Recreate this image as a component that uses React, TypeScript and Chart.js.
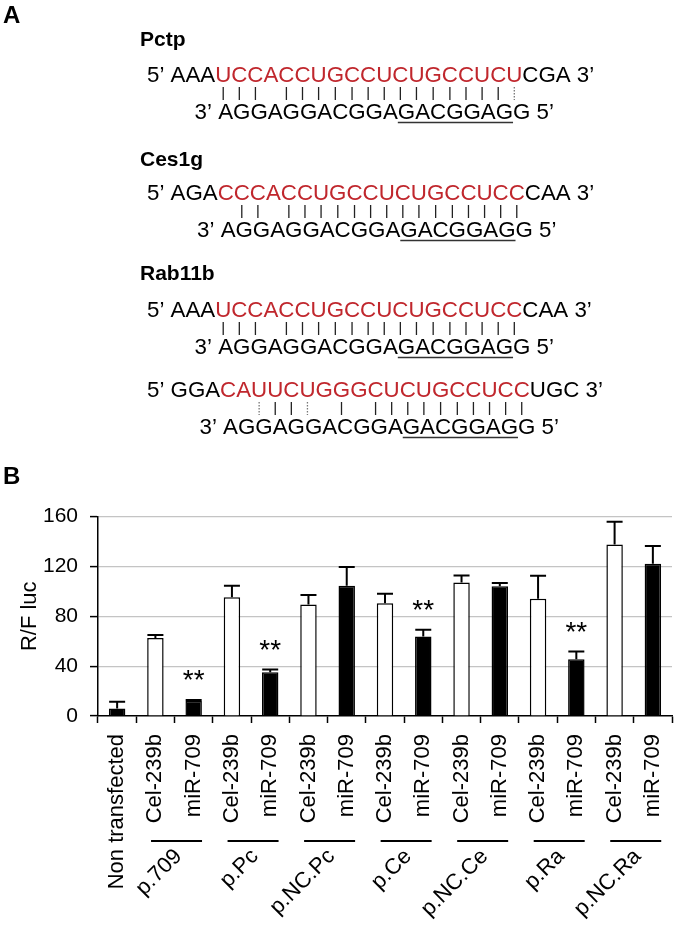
import React, { useEffect, useRef } from 'react';
import { Chart, registerables } from 'chart.js';

Chart.register(...registerables);

// ---------- Panel B data ----------
const categories = [
  'Non transfected',
  'Cel-239b', 'miR-709',
  'Cel-239b', 'miR-709',
  'Cel-239b', 'miR-709',
  'Cel-239b', 'miR-709',
  'Cel-239b', 'miR-709',
  'Cel-239b', 'miR-709',
  'Cel-239b', 'miR-709',
];
const values = [6, 62.5, 12.3, 95.3, 35, 89.4, 104.5, 90.5, 63.7, 107, 104, 94, 45.5, 137.6, 122.2];
const errors = [5.5, 2.5, 0.6, 9.2, 2.2, 7.6, 15, 7.5, 5.4, 5.7, 2.6, 18.4, 6.2, 18.2, 14.2];
const significant = [false, false, true, false, true, false, false, false, true, false, false, false, true, false, false];
const groupLabels = ['p.709', 'p.Pc', 'p.NC.Pc', 'p.Ce', 'p.NC.Ce', 'p.Ra', 'p.NC.Ra'];
const groupFirstIndex = [1, 3, 5, 7, 9, 11, 13];
const yMin = 0;
const yMax = 160;
const yStep = 40;
const yTitle = 'R/F luc';

// ---------- Panel A data ----------
const targetNames = ['Pctp', 'Ces1g', 'Rab11b', ''];
const flank5 = ['AAA', 'AGA', 'AAA', 'GGA'];
const sites = ['UCCACCUGCCUCUGCCUCU', 'CCCACCUGCCUCUGCCUCC', 'UCCACCUGCCUCUGCCUCC', 'CAUUCUGGGCUCUGCCUCC'];
const flank3 = ['CGA', 'CAA', 'CAA', 'UGC'];
const pairings = ['||| ||||||||||||||:', ' || |||||||||||||||', '||| |||||||||||||||', '  :||: | ||||||||||'];
const mirna = 'AGGAGGACGGAGACGGAGG';
const seedFrom = 11;
const seedTo = 18;

const FONT = '"Liberation Sans", Arial, Helvetica, sans-serif';
const RED = '#c0272d';
const GRID = '#c4c4c4';

export default function App() {
  const ref = useRef<HTMLCanvasElement>(null);

  useEffect(() => {
    const canvas = ref.current;
    if (!canvas) return;

    const overlay = {
      id: 'overlay',
      beforeDraw(chart: any) {
        const ctx = chart.ctx;
        ctx.save();
        ctx.fillStyle = '#fff';
        ctx.fillRect(0, 0, chart.width, chart.height);
        ctx.restore();
      },
      afterDatasetsDraw(chart: any) {
        const ctx = chart.ctx;
        const meta = chart.getDatasetMeta(0);
        const ys = chart.scales.y;
        ctx.save();
        ctx.strokeStyle = '#000';
        ctx.lineWidth = 2;
        values.forEach((v, i) => {
          const bar = meta.data[i];
          const x = bar.x;
          const yb = ys.getPixelForValue(v);
          const yt = ys.getPixelForValue(v + errors[i]);
          ctx.beginPath();
          ctx.moveTo(x, yb);
          ctx.lineTo(x, yt);
          ctx.moveTo(x - 8, yt);
          ctx.lineTo(x + 8, yt);
          ctx.stroke();
          if (significant[i]) {
            const size = 28;
            ctx.fillStyle = '#000';
            ctx.font = `${size}px ${FONT}`;
            ctx.textAlign = 'center';
            ctx.textBaseline = 'alphabetic';
            const cy = yt - 27;
            ctx.fillText('**', x, cy + 0.575 * size);
          }
        });
        ctx.restore();
      },
      afterDraw(chart: any) {
        const ctx = chart.ctx;
        const xs = chart.scales.x;
        ctx.save();
        // panel letters
        ctx.fillStyle = '#000';
        ctx.font = `bold 24px ${FONT}`;
        ctx.textAlign = 'left';
        ctx.textBaseline = 'alphabetic';
        ctx.fillText('A', 3, 23);
        ctx.fillText('B', 3, 484);

        // group lines & labels
        groupLabels.forEach((g, k) => {
          const i = groupFirstIndex[k];
          const c = (xs.getPixelForValue(i) + xs.getPixelForValue(i + 1)) / 2;
          ctx.strokeStyle = '#000';
          ctx.lineWidth = 2;
          ctx.beginPath();
          ctx.moveTo(c - 23.5, 841);
          ctx.lineTo(c + 27.5, 841);
          ctx.stroke();
          ctx.save();
          ctx.translate(c + 4, 853);
          ctx.rotate(-Math.PI / 4);
          ctx.font = `22px ${FONT}`;
          ctx.textAlign = 'right';
          ctx.textBaseline = 'middle';
          ctx.fillStyle = '#000';
          ctx.fillText(g, 0, 0);
          ctx.restore();
        });

        // panel A sequences
        const titleBase = [46, 166, 280, 0];
        const base5 = [82, 200, 317, 397];
        const base3 = [119, 237, 354, 434];
        const seqFont = `22.3px ${FONT}`;
        sites.forEach((site, r) => {
          if (targetNames[r]) {
            ctx.font = `bold 21px ${FONT}`;
            ctx.fillStyle = '#000';
            ctx.textAlign = 'left';
            ctx.fillText(targetNames[r], 140, titleBase[r]);
          }
          ctx.font = seqFont;
          ctx.textAlign = 'left';
          ctx.textBaseline = 'alphabetic';
          const y5 = base5[r];
          const y3 = base3[r];
          let x = 147;
          const pre = '5\u2019 ' + flank5[r];
          ctx.fillStyle = '#000';
          ctx.fillText(pre, x, y5);
          x += ctx.measureText(pre).width;
          const redStart = x;
          ctx.fillStyle = RED;
          ctx.fillText(site, x, y5);
          const centers: number[] = [];
          for (let i = 0; i < site.length; i++) {
            const a = ctx.measureText(site.slice(0, i)).width;
            const b = ctx.measureText(site.slice(0, i + 1)).width;
            centers.push(redStart + (a + b) / 2);
          }
          x += ctx.measureText(site).width;
          ctx.fillStyle = '#000';
          ctx.fillText(flank3[r] + ' 3\u2019', x, y5);

          // 3' miRNA line
          const p3 = '3\u2019 ';
          const x3 = redStart + 3 - ctx.measureText(p3).width;
          ctx.fillText(p3 + mirna + ' 5\u2019', x3, y3);
          const u0 = x3 + ctx.measureText(p3 + mirna.slice(0, seedFrom)).width;
          const u1 = x3 + ctx.measureText(p3 + mirna.slice(0, seedTo)).width;
          ctx.strokeStyle = '#333';
          ctx.lineWidth = 1.5;
          ctx.beginPath();
          ctx.moveTo(u0, y3 + 3.5);
          ctx.lineTo(u1, y3 + 3.5);
          ctx.stroke();

          // pairing marks
          const pr = pairings[r];
          for (let i = 0; i < pr.length; i++) {
            const ch = pr[i];
            if (ch === ' ') continue;
            ctx.beginPath();
            if (ch === ':') {
              ctx.strokeStyle = '#777';
              ctx.lineWidth = 1.3;
              ctx.setLineDash([1.5, 1.5]);
            } else {
              ctx.strokeStyle = '#222';
              ctx.lineWidth = 1.3;
              ctx.setLineDash([]);
            }
            ctx.moveTo(centers[i], y5 + 5);
            ctx.lineTo(centers[i], y5 + 18);
            ctx.stroke();
          }
          ctx.setLineDash([]);
        });
        ctx.restore();
      },
    };

    const chart = new Chart(canvas, {
      type: 'bar',
      data: {
        labels: categories,
        datasets: [
          {
            data: values,
            backgroundColor: categories.map((c) => (c === 'Cel-239b' ? '#ffffff' : '#000000')),
            borderColor: '#000',
            borderWidth: 1.5,
            barPercentage: 0.43,
            categoryPercentage: 1,
          },
        ],
      },
      options: {
        animation: false,
        responsive: false,
        devicePixelRatio: 1,
        layout: { padding: { top: 516.5, left: 8, right: 3, bottom: 0 } },
        plugins: { legend: { display: false }, tooltip: { enabled: false } },
        scales: {
          x: {
            offset: true,
            grid: {
              offset: true,
              drawOnChartArea: false,
              drawTicks: true,
              tickLength: 7,
              tickColor: '#000',
              tickWidth: 1.5,
            },
            border: { display: true, color: '#000', width: 1.5 },
            ticks: {
              autoSkip: false,
              minRotation: 90,
              maxRotation: 90,
              padding: 11,
              color: '#000',
              font: { family: FONT, size: 22 },
            },
            afterFit: (s: any) => {
              s.height = 209;
              s.paddingLeft = 0;
              s.paddingRight = 0;
            },
          },
          y: {
            min: yMin,
            max: yMax,
            ticks: {
              stepSize: yStep,
              padding: 12,
              color: '#000',
              font: { family: FONT, size: 21 },
            },
            grid: {
              color: (c: any) => (c.tick && c.tick.value === 0 ? 'rgba(0,0,0,0)' : GRID),
              lineWidth: 1.2,
              tickColor: '#000',
              tickLength: 8,
              tickWidth: 1.5,
            },
            border: { color: '#000', width: 1.5 },
            title: {
              display: true,
              text: yTitle,
              color: '#000',
              font: { family: FONT, size: 22 },
              padding: { top: 9, bottom: 0 },
            },
            afterFit: (s: any) => {
              s.width = 90;
              s.paddingTop = 0;
              s.paddingBottom = 0;
            },
          },
        },
      },
      plugins: [overlay],
    } as any);

    return () => chart.destroy();
  }, []);

  return (
    <div style={{ position: 'absolute', left: 0, top: 0, width: 675, height: 925, background: '#fff' }}>
      <canvas ref={ref} width={675} height={925} style={{ display: 'block' }} />
    </div>
  );
}
